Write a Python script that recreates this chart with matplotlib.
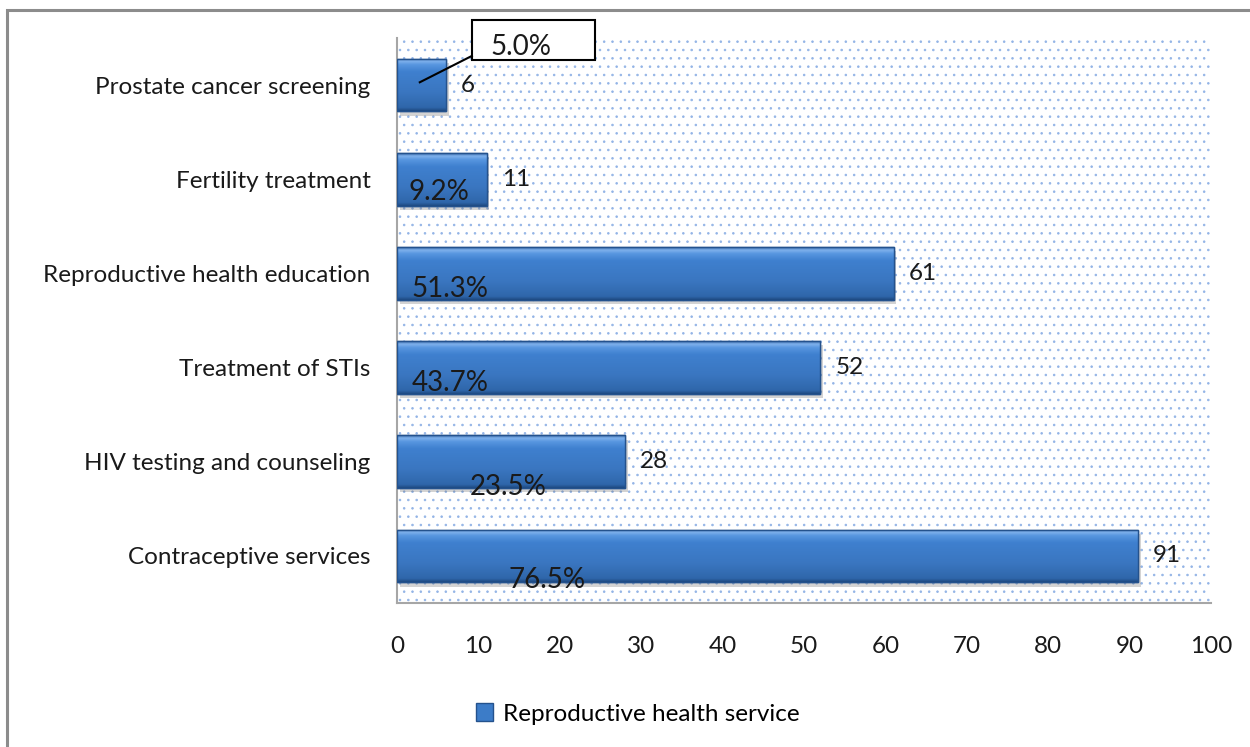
import numpy as np
import matplotlib
matplotlib.use("Agg")
import matplotlib.pyplot as plt
from matplotlib.patches import Rectangle, Patch
from matplotlib.colors import to_rgb

plt.rcParams["font.family"] = ["Lato", "DejaVu Sans"]
plt.rcParams["font.size"] = 17.5
plt.rcParams["hatch.color"] = "#93b4e6"
plt.rcParams["hatch.linewidth"] = 0.6

# services, listed bottom to top
services = ["Contraceptive services", "HIV testing and counseling",
            "Treatment of STIs", "Reproductive health education",
            "Fertility treatment", "Prostate cancer screening"]
counts = [91, 28, 52, 61, 11, 6]
n_total = 119
series_name = "Reproductive health service"
xticks = list(range(0, 101, 10))

pcts = [100.0 * c / n_total for c in counts]

fig = plt.figure(figsize=(12.5, 7.47), dpi=100)
fig.patch.set_facecolor("white")
# outer chart frame (only left and top edges fall inside the image)
fig.patches.append(Rectangle((0.0056, -0.1), 1.2, 0.9866 + 0.1, transform=fig.transFigure,
                             fill=False, edgecolor="#8c8c8c", linewidth=2.2))

ax = fig.add_axes([0.3176, 0.1928, 0.6512, 0.7563])
ax.set_facecolor("white")
ax.patch.set_hatch("..")
ax.patch.set_edgecolor("#93b4e6")
ax.patch.set_linewidth(0)

y = np.arange(len(services))
h = 0.56

# soft shadow under each bar
ax.barh(y - 0.045, counts, height=h, left=0.35, color="#6e6e6e", alpha=0.3,
        linewidth=0, zorder=2)
bars = ax.barh(y, counts, height=h, color="#3c7cc8", edgecolor="#24528d",
               linewidth=1.0, zorder=3)

# vertical gradient to give the bars a rounded look
stops = [0.0, 0.06, 0.35, 0.75, 0.88, 0.95, 1.0]
cols = ["#1f4a82", "#2f66aa", "#3a76c0", "#3f80cf", "#5796e0", "#7fb1ec", "#3a6cab"]
rgb = np.array([to_rgb(c) for c in cols])
t = np.linspace(0, 1, 64)
grad = np.stack([np.interp(t, stops, rgb[:, k]) for k in range(3)], axis=-1)[:, None, :]
for r in bars:
    x0, y0, w, hh = r.get_x(), r.get_y(), r.get_width(), r.get_height()
    im = ax.imshow(grad, extent=[x0, x0 + w, y0, y0 + hh], origin="lower",
                   aspect="auto", zorder=3.5, interpolation="bilinear")
    im.set_clip_path(r)
    ax.add_patch(Rectangle((x0, y0), w, hh, fill=False, edgecolor="#24528d",
                           linewidth=1.0, zorder=3.6))

# count labels at the bar ends
for yi, c in zip(y, counts):
    ax.annotate(str(c), xy=(c, yi), xytext=(11, 0), textcoords="offset points",
                ha="left", va="center", fontsize=17.5, color="#1a1a1a", zorder=5)

# percentage labels inside the bars
pct_pos = [(18.4, -0.26), (13.6, -0.27), (6.5, -0.16), (6.5, -0.17), (5.2, -0.13)]
for i, (px, dy) in enumerate(pct_pos):
    ax.text(px, y[i] + dy, f"{pcts[i]:.1f}%", ha="center", va="center",
            fontsize=20, color="#1a1a1a", zorder=5)

# the smallest bar gets a callout box with a leader line
top = len(services) - 1
ax.add_patch(Rectangle((9.2, top + 0.267), 15.1, 0.426, fill=True, facecolor="white",
                       edgecolor="black", linewidth=1.5, clip_on=False, zorder=6))
ax.plot([2.8, 9.2], [top + 0.03, top + 0.31], color="black", linewidth=1.5,
        clip_on=False, zorder=6)
ax.text(15.2, top + 0.405, f"{pcts[top]:.1f}%", ha="center", va="center",
        fontsize=20, color="#1a1a1a", zorder=7, clip_on=False)

ax.set_xlim(0, 100)
ax.set_ylim(-0.5, len(services) - 0.5)
ax.set_xticks(xticks)
ax.set_yticks(y)
ax.set_yticklabels(services)
ax.tick_params(axis="both", length=0, labelsize=17.5, colors="#1a1a1a")
ax.tick_params(axis="x", pad=24)
ax.tick_params(axis="y", pad=19)
for s in ["top", "right"]:
    ax.spines[s].set_visible(False)
for s in ["left", "bottom"]:
    ax.spines[s].set_color("#a6a6a6")
    ax.spines[s].set_linewidth(1.5)

handle = Patch(facecolor="#3c7cc8", edgecolor="#24528d", label=series_name)
fig.legend(handles=[handle], loc="center", bbox_to_anchor=(638 / 1250, 1 - 714 / 747),
           frameon=False, fontsize=17.5, handlelength=0.7, handleheight=0.7,
           handletextpad=0.4)

fig.savefig("out.png", dpi=100)
